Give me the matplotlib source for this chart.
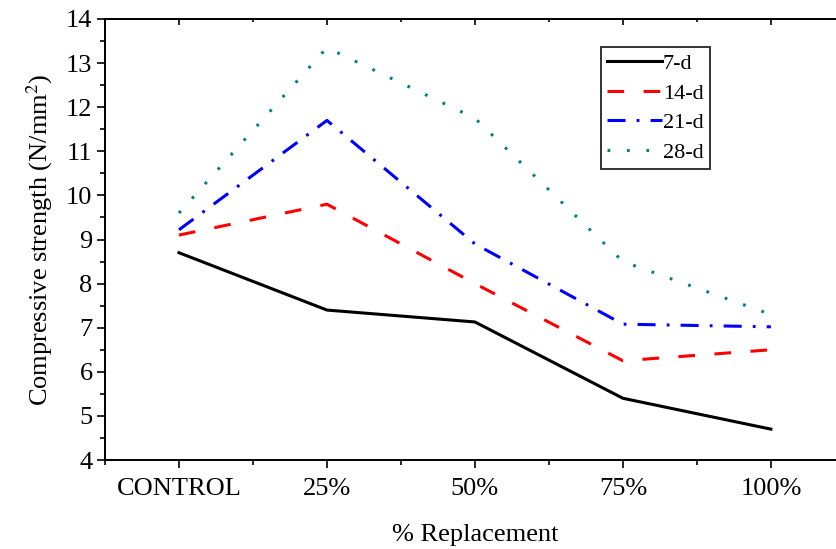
import numpy as np
import matplotlib
matplotlib.use("Agg")
import matplotlib.pyplot as plt
from matplotlib.ticker import MultipleLocator

plt.rcParams['font.family'] = ['Liberation Serif', 'DejaVu Serif']
plt.rcParams['mathtext.fontset'] = 'stix'
plt.rcParams['lines.scale_dashes'] = False

# data
categories = ["CONTROL", "25%", "50%", "75%", "100%"]
d7 = [8.7, 7.4, 7.13, 5.4, 4.7]
d14 = [9.1, 9.8, 8.0, 6.25, 6.5]
d21 = [9.22, 11.7, 8.9, 7.08, 7.02]
d28 = [9.6, 13.35, 11.75, 8.5, 7.3]
labels = ["7-d", "14-d", "21-d", "28-d"]

fig = plt.figure(figsize=(8.36, 5.49), dpi=100)
ax = fig.add_axes([0.1256, 0.1621, 0.885, 0.8033])

x = np.arange(len(categories))
ax.plot(x, d7, color='black', lw=2.2, ls='-', label=labels[0])
ax.plot(x, d14, color='#ff0000', lw=2.2, ls=(0, (12, 14)), label=labels[1])
ax.plot(x, d21, color='#0000ff', lw=2.2, ls=(0, (13, 8, 2, 8)), label=labels[2])
ax.plot(x, d28, color='#008080', lw=2.2, ls=(0, (2, 12)), label=labels[3])

ax.set_xlim(-0.5, 4.5)
ax.set_ylim(4, 14)
ax.set_xticks(x)
ax.set_xticklabels(categories)
ax.xaxis.set_minor_locator(MultipleLocator(0.5))
ax.yaxis.set_major_locator(MultipleLocator(1))
ax.yaxis.set_minor_locator(MultipleLocator(0.5))

ax.tick_params(axis='both', which='major', direction='out', length=6, width=1.2,
               labelsize=19, pad=3)
ax.tick_params(axis='both', which='minor', direction='out', length=3.5, width=1.2)
ax.tick_params(axis='x', which='major', pad=7)

# small inward ticks on the top spine
top = ax.secondary_xaxis('top')
top.set_xticks(x)
top.xaxis.set_minor_locator(MultipleLocator(0.5))
top.tick_params(which='major', direction='in', length=4, width=1.2, labeltop=False)
top.tick_params(which='minor', direction='in', length=2, width=1.2)
top.spines['top'].set_linewidth(1.4)
for s in ax.spines.values():
    s.set_linewidth(1.4)

ax.set_xlabel("% Replacement", fontsize=19, labelpad=17)
ax.set_ylabel("Compressive strength (N/mm$^{2}$)", fontsize=19, labelpad=8)

leg = ax.legend(loc='upper left', bbox_to_anchor=(0.670, 0.9365), fontsize=16,
                frameon=True, fancybox=False, edgecolor='black',
                handlelength=2.45, handletextpad=0.05, borderpad=0.3,
                labelspacing=0.4, borderaxespad=0)
leg.get_frame().set_linewidth(1.4)

fig.savefig("out.png", dpi=100)
